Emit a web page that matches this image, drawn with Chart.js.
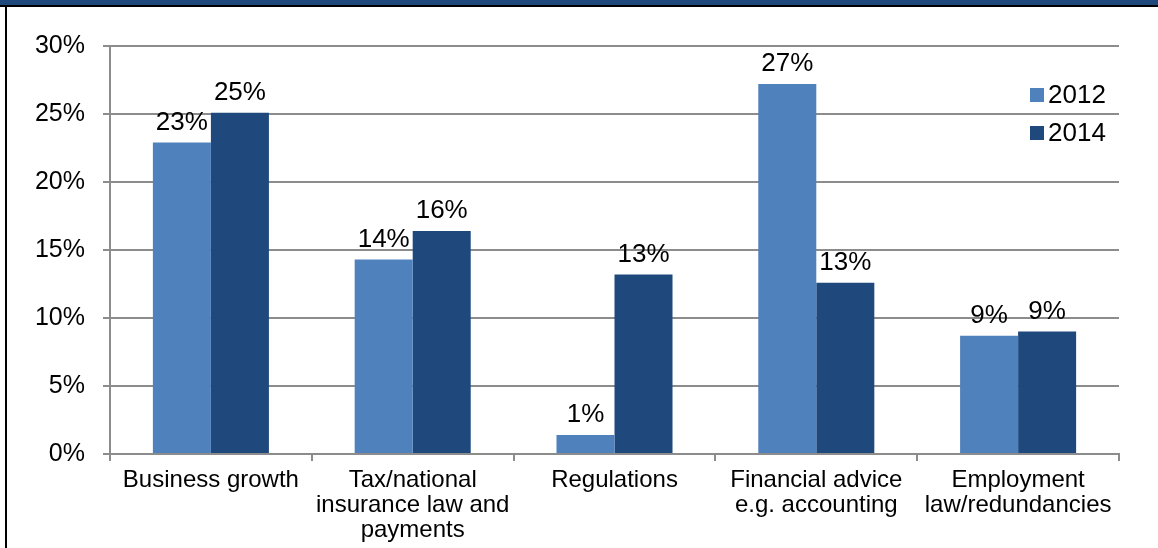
<!DOCTYPE html>
<html>
<head>
<meta charset="utf-8">
<script src="https://cdn.jsdelivr.net/npm/chart.js@4/dist/chart.umd.min.js"></script>
<style>
    html, body { margin: 0; padding: 0; background: #fff; }
    #frame { position: relative; width: 1158px; height: 548px; overflow: hidden; }
    #band { position: absolute; left: 0; top: 0; width: 1158px; height: 5px; background: #1f497d; border-bottom: 2px solid #000; }
    #leftline { position: absolute; left: 5px; top: 5px; width: 2px; height: 543px; background: #000; }
    #wrap { position: absolute; left: 7px; top: 7px; width: 1151px; height: 541px; }
</style>
</head>
<body>
<div id="frame">
    <div id="band"></div>
    <div id="leftline"></div>
    <div id="wrap"><canvas id="myChart" width="1151" height="541"></canvas></div>
</div>
<script>
const categories = [
    ['Business growth'],
    ['Tax/national', 'insurance law and', 'payments'],
    ['Regulations'],
    ['Financial advice', 'e.g. accounting'],
    ['Employment', 'law/redundancies']
];
const seriesNames = ['2012', '2014'];
const values2012 = [22.9, 14.3, 1.4, 27.2, 8.7];
const values2014 = [25.1, 16.4, 13.2, 12.6, 9.0];
const yTicks = [0, 5, 10, 15, 20, 25, 30];

const fontFamily = '"Liberation Sans", Arial, sans-serif';

// labels de valeurs au-dessus des barres
const valueLabels = {
    id: 'valueLabels',
    afterDatasetsDraw(chart) {
        const ctx = chart.ctx;
        ctx.save();
        ctx.font = '26px ' + fontFamily;
        ctx.fillStyle = '#000';
        ctx.textAlign = 'center';
        ctx.textBaseline = 'bottom';
        chart.data.datasets.forEach((ds, i) => {
            chart.getDatasetMeta(i).data.forEach((bar, j) => {
                ctx.fillText(Math.round(ds.data[j]) + '%', bar.x, bar.y - 7);
            });
        });
        ctx.restore();
    }
};

// légende dans la zone du graphique, en haut à droite
const insideLegend = {
    id: 'insideLegend',
    afterDraw(chart) {
        const ctx = chart.ctx;
        const area = chart.chartArea;
        ctx.save();
        ctx.font = '26px ' + fontFamily;
        ctx.textBaseline = 'middle';
        ctx.textAlign = 'left';
        chart.data.datasets.forEach((ds, i) => {
            const y = area.top + 49 + i * 38;
            const x = area.right - 89;
            ctx.fillStyle = ds.backgroundColor;
            ctx.fillRect(x, y - 7, 14, 14);
            ctx.fillStyle = '#000';
            ctx.fillText(ds.label, x + 18, y + 1);
        });
        ctx.restore();
    }
};

const ctx = document.getElementById('myChart').getContext('2d');
const myChart = new Chart(ctx, {
    type: 'bar',
    data: {
        labels: categories,
        datasets: [{
            label: seriesNames[0],
            data: values2012,
            backgroundColor: '#4f81bd'
        }, {
            label: seriesNames[1],
            data: values2014,
            backgroundColor: '#1f497d'
        }]
    },
    options: {
        responsive: false,
        animation: false,
        devicePixelRatio: 1,
        categoryPercentage: 0.575,
        barPercentage: 1.0,
        layout: {
            padding: { top: 39, right: 39, left: 0, bottom: 0 }
        },
        plugins: {
            legend: { display: false },
            tooltip: { enabled: false }
        },
        scales: {
            x: {
                grid: {
                    offset: true,
                    drawOnChartArea: false,
                    drawTicks: true,
                    tickLength: 7,
                    color: '#8c8c8c',
                    lineWidth: 2
                },
                border: { color: '#8c8c8c', width: 2 },
                ticks: {
                    color: '#000',
                    font: { family: fontFamily, size: 24, lineHeight: 1.04 },
                    maxRotation: 0,
                    autoSkip: false,
                    padding: 7
                },
                afterFit: function(scale) { scale.height = 94; }
            },
            y: {
                min: 0,
                max: 30,
                afterBuildTicks: function(scale) {
                    scale.ticks = yTicks.map(v => ({ value: v }));
                },
                grid: {
                    color: '#8c8c8c',
                    lineWidth: 2,
                    drawTicks: true,
                    tickLength: 7
                },
                border: { color: '#8c8c8c', width: 2 },
                ticks: {
                    color: '#000',
                    font: { family: fontFamily, size: 25 },
                    padding: 18,
                    callback: v => v + '%'
                },
                afterFit: function(scale) { scale.width = 103; }
            }
        }
    },
    plugins: [valueLabels, insideLegend]
});
</script>
</body>
</html>
